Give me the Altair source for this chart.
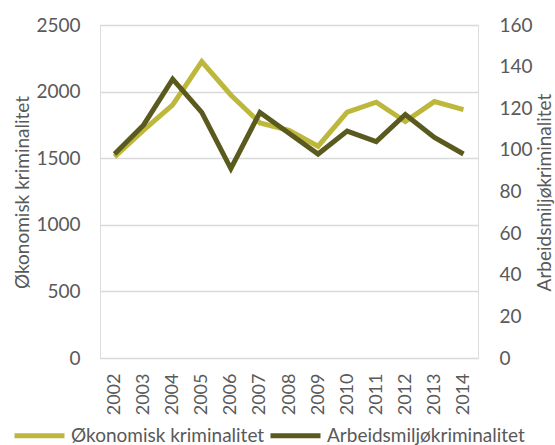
import altair as alt
import pandas as pd

years = [str(y) for y in range(2002, 2015)]
okonomisk = [1510, 1710, 1900, 2225, 1975, 1765, 1710, 1590, 1845, 1920, 1775, 1925, 1865]
arbeidsmiljo = [98, 112, 134, 118, 91, 118, 108, 98, 109, 104, 117, 106, 98]
series = ["Økonomisk kriminalitet", "Arbeidsmiljøkriminalitet"]
colors = ["#BDB83C", "#5B5A1E"]

df = pd.DataFrame({
    "år": years * 2,
    "verdi": okonomisk + arbeidsmiljo,
    "serie": [series[0]] * len(years) + [series[1]] * len(years),
})

FONT = "Lato"
TXT = "#595959"

x = alt.X("år:O", title=None,
          scale=alt.Scale(type="point", padding=0.5),
          axis=alt.Axis(labelAngle=270, labelFontSize=18, labelColor=TXT, labelFont=FONT,
                        domain=False, ticks=False, labelPadding=15, labelBaseline="middle"))

color = alt.Color("serie:N", scale=alt.Scale(domain=series, range=colors),
                  legend=alt.Legend(title=None, orient="none", legendX=-88, legendY=383,
                                    direction="horizontal", symbolType="stroke",
                                    symbolSize=2500, symbolStrokeWidth=5,
                                    labelFontSize=19, labelFont=FONT, labelColor=TXT,
                                    labelOffset=4, columnPadding=-5, labelLimit=300))

left = alt.Chart(df).transform_filter(alt.datum.serie == series[0]).mark_line(strokeWidth=5).encode(
    x=x,
    y=alt.Y("verdi:Q", title="Økonomisk kriminalitet",
            scale=alt.Scale(domain=[0, 2500]),
            axis=alt.Axis(values=[0, 500, 1000, 1500, 2000, 2500], format="d", labelFontSize=19,
                          labelColor=TXT, labelFont=FONT, titleFont=FONT, titleFontSize=19,
                          titleColor=TXT, titleFontWeight="normal", domain=False, ticks=False,
                          labelPadding=20, titleX=-78, titleY=167, titleAngle=270,
                          titleBaseline="middle", titleAlign="center",
                          gridColor="#D9D9D9", gridWidth=1.5)),
    color=color,
)

right = alt.Chart(df).transform_filter(alt.datum.serie == series[1]).mark_line(strokeWidth=5).encode(
    x=x,
    y=alt.Y("verdi:Q", title="Arbeidsmiljøkriminalitet",
            scale=alt.Scale(domain=[0, 160]),
            axis=alt.Axis(orient="right", values=list(range(0, 161, 20)), format="d", labelFontSize=19,
                          labelColor=TXT, labelFont=FONT, titleFont=FONT, titleFontSize=19,
                          titleColor=TXT, titleFontWeight="normal", titleAngle=270,
                          titleX=66, titleY=167, titleBaseline="middle", titleAlign="center",
                          domain=False, ticks=False, grid=False,
                          labelPadding=21)),
    color=color,
)

chart = alt.layer(left, right).resolve_scale(y="independent").properties(
    width=378, height=333,
    padding={"left": 100, "top": 25, "right": 77, "bottom": 87},
    autosize=alt.AutoSizeParams(type="none"),
).configure_view(stroke=None).configure(background="white")

chart.save("out.html", embed_options={"renderer": "svg", "actions": False})
